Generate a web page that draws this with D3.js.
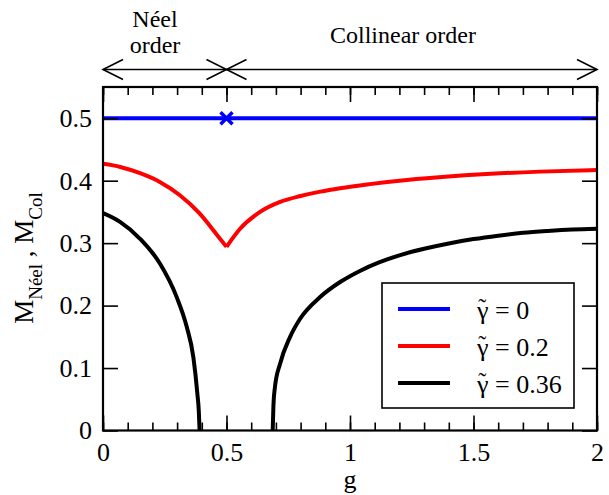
<!DOCTYPE html>
<html>
<head>
<meta charset="utf-8">
<script src="https://cdn.jsdelivr.net/npm/d3@7"></script>
</head>
<body style="margin:0">
<svg id="chart" width="609" height="495" font-family="Liberation Serif"></svg>
<script>
// Staggered magnetisation vs. coupling g for three values of gamma-tilde
const gammaLabels = ["0", "0.2", "0.36"];
const seriesColors = ["#0000ff", "#ff0000", "#000000"];

// gamma = 0 : flat at 0.5
const blueG = [0, 2];
const blueM = [0.5, 0.5];

// gamma = 0.2 : Néel branch (g <= 0.5) and collinear branch (g >= 0.5)
const redNeelG = [0, 0.07, 0.15, 0.23, 0.31, 0.39, 0.46, 0.5];
const redNeelM = [0.427, 0.422, 0.412, 0.398, 0.377, 0.348, 0.314, 0.294];
const redColG = [0.5, 0.555, 0.636, 0.717, 0.8, 0.88, 0.96, 1.08, 1.2, 1.36, 1.57, 1.77, 2.0];
const redColM = [0.294, 0.323, 0.350, 0.366, 0.3755, 0.3825, 0.388, 0.3945, 0.4, 0.4055, 0.411, 0.4145, 0.417];

// gamma = 0.36 : order vanishes between the two branches
const blackNeelG = [0, 0.069, 0.15, 0.231, 0.298, 0.339, 0.366, 0.382, 0.388, 0.391];
const blackNeelM = [0.348, 0.334, 0.307, 0.267, 0.214, 0.166, 0.117, 0.059, 0.03, 0];
const blackColG = [0.687, 0.69, 0.696, 0.717, 0.757, 0.798, 0.879, 0.96, 1.04, 1.12, 1.2, 1.3, 1.4, 1.5, 1.6, 1.7, 1.8, 1.9, 2.0];
const blackColM = [0, 0.04, 0.069, 0.107, 0.1496, 0.179, 0.2137, 0.2377, 0.2555, 0.2695, 0.2805, 0.291, 0.2995, 0.3065, 0.312, 0.3165, 0.3195, 0.3218, 0.323];

// transition point marker
const markerG = [0.5];
const markerM = [0.5];

const xMajor = [0, 0.5, 1, 1.5, 2];
const xMinor = d3.range(0, 21).map(i => i / 10);
const yMajor = [0, 0.1, 0.2, 0.3, 0.4, 0.5];

const FONT = '"Liberation Serif"';

const svg = d3.select("#chart");
const L = 103, R = 597, T = 87, B = 430.5;

const x = d3.scaleLinear().domain([0, 2]).range([L, R]);
const y = d3.scaleLinear().domain([0, 0.55]).range([B, T]);

const zip = (gs, ms) => gs.map((g, i) => [g, ms[i]]);
const line = d3.line().x(d => x(d[0])).y(d => y(d[1])).curve(d3.curveMonotoneX);

// serif text helper
function label(parent, px, py, size, str) {
  return parent.append("text")
    .style("font-family", FONT)
    .attr("x", px).attr("y", py)
    .attr("font-size", size)
    .text(str);
}

const plot = svg.append("g");
plot.append("clipPath").attr("id", "plotclip")
  .append("rect").attr("x", L).attr("y", T).attr("width", R - L).attr("height", B - T);

const curves = [
  { d: zip(blueG, blueM), c: seriesColors[0] },
  { d: zip(redNeelG, redNeelM), c: seriesColors[1] },
  { d: zip(redColG, redColM), c: seriesColors[1] },
  { d: zip(blackNeelG, blackNeelM), c: seriesColors[2] },
  { d: zip(blackColG, blackColM), c: seriesColors[2] }
];
plot.append("g").attr("clip-path", "url(#plotclip)")
  .selectAll("path").data(curves).join("path")
  .attr("d", d => line(d.d))
  .attr("fill", "none")
  .attr("stroke", d => d.c)
  .attr("stroke-width", 4)
  .attr("stroke-linejoin", "miter");

// cross marker at the transition
const mk = plot.append("g").selectAll("g").data(zip(markerG, markerM)).join("g")
  .attr("transform", d => `translate(${x(d[0])},${y(d[1])})`);
mk.append("path").attr("d", "M-6,-6L6,6M-6,6L6,-6")
  .attr("stroke", seriesColors[0]).attr("stroke-width", 3.5).attr("fill", "none");

// axes: inward major and minor ticks on all four sides
function styleAxis(g) {
  g.attr("font-family", null).attr("font-size", 26);
  g.select(".domain").remove();
  g.selectAll(".tick line").attr("stroke", "#000").attr("stroke-width", 1.6);
  g.selectAll(".tick text").style("font-family", FONT);
}
const fmt = d3.format("");

svg.append("g").attr("transform", `translate(0,${B})`)
  .call(d3.axisBottom(x).tickValues(xMinor).tickSize(-8).tickFormat(""))
  .call(styleAxis);
svg.append("g").attr("transform", `translate(0,${B})`)
  .call(d3.axisBottom(x).tickValues(xMajor).tickSize(-15).tickPadding(12).tickFormat(fmt))
  .call(styleAxis);
svg.append("g").attr("transform", `translate(0,${T})`)
  .call(d3.axisTop(x).tickValues(xMinor).tickSize(-8).tickFormat(""))
  .call(styleAxis);
svg.append("g").attr("transform", `translate(0,${T})`)
  .call(d3.axisTop(x).tickValues(xMajor).tickSize(-15).tickFormat(""))
  .call(styleAxis);
svg.append("g").attr("transform", `translate(${L},0)`)
  .call(d3.axisLeft(y).tickValues(yMajor).tickSize(-15).tickPadding(11).tickFormat(fmt))
  .call(styleAxis);
svg.append("g").attr("transform", `translate(${R},0)`)
  .call(d3.axisRight(y).tickValues(yMajor).tickSize(-15).tickFormat(""))
  .call(styleAxis);

// frame
svg.append("rect").attr("x", L).attr("y", T).attr("width", R - L).attr("height", B - T)
  .attr("fill", "none").attr("stroke", "#000").attr("stroke-width", 2.2);

// axis titles
label(svg, (L + R) / 2, 488, 26, "g").attr("text-anchor", "middle");

const yl = svg.append("text")
  .style("font-family", FONT)
  .attr("transform", "translate(33,258) rotate(-90)")
  .attr("text-anchor", "middle").attr("font-size", 27);
yl.append("tspan").text("M");
yl.append("tspan").attr("font-size", 19).attr("dy", 9).text("Néel");
yl.append("tspan").attr("dy", -9).text(" , M");
yl.append("tspan").attr("font-size", 19).attr("dy", 9).text("Col");

// phase-region arrows above the frame
const arrowY = 69.5;
const arrows = svg.append("g").attr("stroke", "#000").attr("stroke-width", 1.6).attr("fill", "none");
const chev = (px, dir) => `M${px + dir * 20},${arrowY - 10}L${px},${arrowY}L${px + dir * 20},${arrowY + 10}`;
arrows.append("path").attr("d", `M${x(0)},${arrowY}H${x(0.5)}`);
arrows.append("path").attr("d", `M${x(0.5)},${arrowY}H${x(2)}`);
arrows.append("path").attr("d", chev(x(0), 1));
arrows.append("path").attr("d", chev(x(0.5), -1));
arrows.append("path").attr("d", chev(x(0.5), 1));
arrows.append("path").attr("d", chev(x(2), -1));

label(svg, 155, 27, 24, "Néel").attr("text-anchor", "middle");
label(svg, 155, 53, 24, "order").attr("text-anchor", "middle");
label(svg, 403, 43, 24, "Collinear order").attr("text-anchor", "middle");

// legend
const lg = svg.append("g");
lg.append("rect").attr("x", 382).attr("y", 283).attr("width", 192).attr("height", 125)
  .attr("fill", "#fff").attr("stroke", "#000").attr("stroke-width", 1.6);
const rows = lg.selectAll("g.row").data(gammaLabels).join("g").attr("class", "row")
  .attr("transform", (d, i) => `translate(0,${309 + i * 37})`);
rows.append("line").attr("x1", 398).attr("x2", 450)
  .attr("stroke", (d, i) => seriesColors[i]).attr("stroke-width", 4);
rows.each(function (d) {
  const row = d3.select(this);
  label(row, 477, 10, 26, "\u03B3 = " + d);
  // tilde accent over the gamma (gamma is about 0.41 em wide)
  label(row, 477 + 0.205 * 26, 6, 24, "\u02DC").attr("text-anchor", "middle");
});

// re-apply the face once the local font has been resolved
if (document.fonts && document.fonts.load) {
  document.fonts.load('26px "Liberation Serif"').then(() => {
    svg.selectAll("text").style("font-family", FONT);
  });
}
</script>
</body>
</html>
